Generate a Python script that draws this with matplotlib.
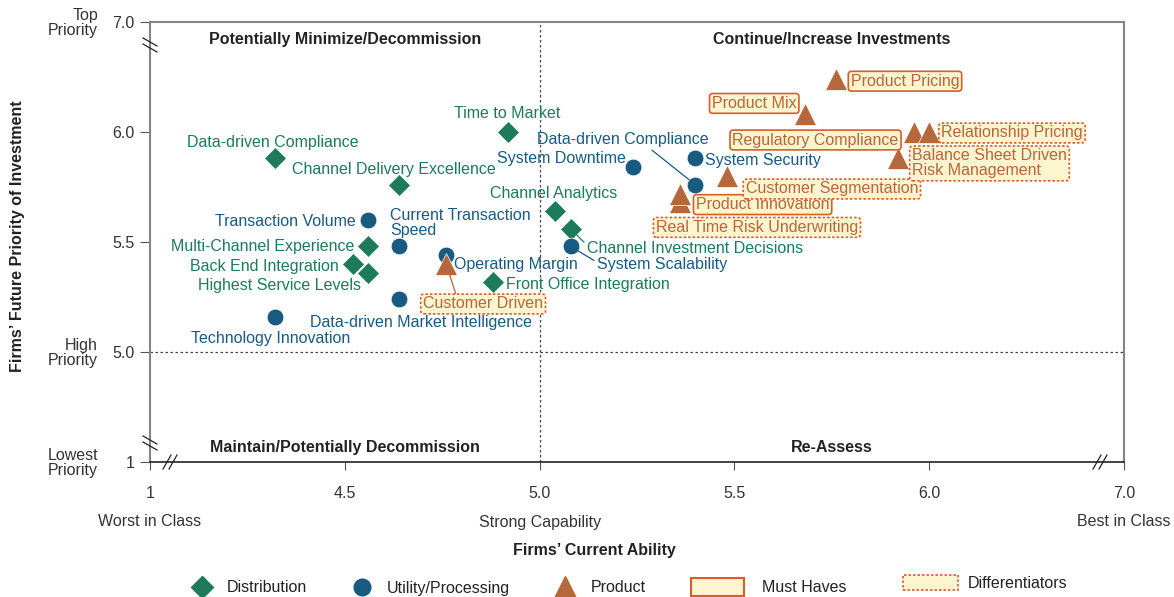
import matplotlib.pyplot as plt
from matplotlib.lines import Line2D
from matplotlib.patches import FancyBboxPatch

plt.rcParams['font.family'] = ['Liberation Sans', 'DejaVu Sans']

# ---------- Data ----------
dist_names = ['Data-driven Compliance', 'Channel Delivery Excellence', 'Time to Market',
              'Channel Analytics', 'Channel Investment Decisions', 'Multi-Channel Experience',
              'Back End Integration', 'Highest Service Levels', 'Front Office Integration']
dist_x = [4.32, 4.64, 4.92, 5.04, 5.08, 4.56, 4.52, 4.56, 4.88]
dist_y = [5.88, 5.76, 6.00, 5.64, 5.56, 5.48, 5.40, 5.36, 5.32]

util_names = ['Transaction Volume', 'Current Transaction\nSpeed', 'Operating Margin',
              'Data-driven Market Intelligence', 'Technology Innovation', 'System Downtime',
              'Data-driven Compliance', 'System Security', 'System Scalability']
util_x = [4.56, 4.64, 4.76, 4.64, 4.32, 5.24, 5.40, 5.40, 5.08]
util_y = [5.60, 5.48, 5.44, 5.24, 5.16, 5.84, 5.76, 5.88, 5.48]

prod_names = ['Customer Driven', 'Real Time Risk Underwriting', 'Product Innovation',
              'Customer Segmentation', 'Product Mix', 'Product Pricing',
              'Regulatory Compliance', 'Relationship Pricing',
              'Balance Sheet Driven\nRisk Management']
prod_x = [4.76, 5.36, 5.36, 5.48, 5.68, 5.76, 5.96, 6.00, 5.92]
prod_y = [5.40, 5.68, 5.72, 5.80, 6.08, 6.24, 6.00, 6.00, 5.88]
prod_type = ['Differentiator', 'Differentiator', 'Must Have', 'Differentiator', 'Must Have',
             'Must Have', 'Must Have', 'Differentiator', 'Differentiator']

x_ticks = [4.0, 4.5, 5.0, 5.5, 6.0, 6.5]
x_tick_labels = ['1', '4.5', '5.0', '5.5', '6.0', '7.0']
y_ticks = [4.5, 5.0, 5.5, 6.0, 6.5]
y_tick_labels = ['1', '5.0', '5.5', '6.0', '7.0']

# ---------- Styling ----------
GREEN = '#1d7a5b'
BLUE = '#195a80'
ORANGE = '#b5683c'
BOX_FILL = '#fdf4d0'
BOX_EDGE = '#d4602b'
FS = 11.5

# label placement (offset in pixels, horizontal alignment, leader line relpos)
dist_lbl = [((-2, 18), 'center', None), ((-5, 17), 'center', None), ((-1, 20), 'center', None),
            ((-2, 20), 'center', None), ((16, -18), 'left', (0, 0.75)), ((-14, 2), 'right', None),
            ((-14, 0), 'right', None), ((-7, -11), 'right', None), ((13, -1), 'left', None)]
util_lbl = [((-12, 0), 'right', None), ((-9, 25), 'left', None), ((8, -7), 'left', None),
            ((22, -21), 'center', None), ((-4, -20), 'center', None), ((-7, 11), 'right', None),
            ((-73, 47), 'center', (0.64, 0.1)), ((10, 0), 'left', None), ((26, -16), 'left', (0, 0.65))]
prod_lbl = [((37, -38), 'center', (0.28, 1)), ((-24, -23), 'left', None), ((16, -9), 'left', None),
            ((19, -11), 'left', None), ((-8, 13), 'right', None), ((15, 0), 'left', None),
            ((-15, -6), 'right', None), ((12, 1), 'left', None), ((14, -3), 'left', None)]

fig = plt.figure(figsize=(11.74, 5.97), dpi=100)
ax = fig.add_axes([150 / 1174, 1 - 462 / 597, 974 / 1174, 440 / 597])
ax.set_xlim(4.0, 6.5)
ax.set_ylim(4.5, 6.5)

# Quadrant divider lines
ax.axvline(5.0, color='#444444', lw=0.9, ls=(0, (2, 2)), zorder=1)
ax.axhline(5.0, color='#444444', lw=0.9, ls=(0, (2, 2)), zorder=1)

# Markers
ax.plot(dist_x, dist_y, ls='', marker='D', ms=11, color=GREEN, mec='white', mew=0.5, zorder=3)
ax.plot(util_x, util_y, ls='', marker='o', ms=12, color=BLUE, mec='white', mew=0.5, zorder=3)
ax.plot(prod_x, prod_y, ls='', marker='^', ms=16, color=ORANGE, mec='white', mew=0.5, zorder=3)


def add_labels(names, xs, ys, placements, color, types=None):
    for i, name in enumerate(names):
        (dx, dy), ha, relpos = placements[i]
        kw = {}
        if relpos is not None:
            kw['arrowprops'] = dict(arrowstyle='-', color=color, lw=0.9, shrinkA=0, shrinkB=6,
                                    relpos=relpos)
        if types is not None:
            ls = '-' if types[i] == 'Must Have' else (0, (1.5, 1.2))
            kw['bbox'] = dict(boxstyle='round,pad=0.15,rounding_size=0.2', fc=BOX_FILL,
                              ec=BOX_EDGE, lw=1.2, ls=ls)
        # text sits ~2px lower than its bbox centre in the reference
        ax.annotate(name, (xs[i], ys[i]), xytext=(dx, dy - 2), textcoords='offset pixels',
                    ha=ha, va='center', multialignment='left', color=color, fontsize=FS,
                    linespacing=1.0, zorder=5 if types else 4, **kw)


add_labels(dist_names, dist_x, dist_y, dist_lbl, GREEN)
add_labels(util_names, util_x, util_y, util_lbl, BLUE)
add_labels(prod_names, prod_x, prod_y, prod_lbl, ORANGE, prod_type)

# Quadrant titles
for qx, qy, txt, va in [(4.5, 6.5, 'Potentially Minimize/Decommission', 'top'),
                        (5.75, 6.5, 'Continue/Increase Investments', 'top'),
                        (4.5, 4.5, 'Maintain/Potentially Decommission', 'bottom'),
                        (5.75, 4.5, 'Re-Assess', 'bottom')]:
    off = -10 if va == 'top' else 7
    ax.annotate(txt, (qx, qy), xytext=(0, off), textcoords='offset pixels', ha='center', va=va,
                fontsize=FS, fontweight='bold', color='#222222')

# Axes appearance
for side in ['top', 'right', 'left']:
    ax.spines[side].set_color('#858585')
    ax.spines[side].set_linewidth(1.5)
ax.spines['bottom'].set_color('#222222')
ax.spines['bottom'].set_linewidth(1.2)

ax.set_xticks(x_ticks)
ax.set_xticklabels(x_tick_labels)
ax.set_yticks(y_ticks)
ax.set_yticklabels(y_tick_labels)
ax.tick_params(axis='x', length=6, width=0.8, color='#555555', pad=11, labelsize=FS,
               labelcolor='#333333')
ax.tick_params(axis='y', length=7, width=0.8, color='#555555', pad=4, labelsize=FS,
               labelcolor='#333333')

# Extra axis descriptions
for yv, txt in [(6.5, 'Top\nPriority'), (5.0, 'High\nPriority'), (4.5, 'Lowest\nPriority')]:
    ax.annotate(txt, (0, yv), xycoords=('axes fraction', 'data'), xytext=(-52, -1),
                textcoords='offset pixels', ha='right', va='center', fontsize=FS,
                linespacing=0.95, color='#333333')
for xv, txt in [(4.0, 'Worst in Class'), (5.0, 'Strong Capability'), (6.5, 'Best in Class')]:
    ax.annotate(txt, (xv, 0), xycoords=('data', 'axes fraction'), xytext=(0, -60),
                textcoords='offset pixels', ha='center', va='center', fontsize=FS,
                color='#333333')

fig.text(594 / 1174, 1 - 551 / 597, "Firms\u2019 Current Ability", ha='center', va='center',
         fontsize=FS, fontweight='bold', color='#222222')
fig.text(18 / 1174, 1 - 236 / 597, "Firms\u2019 Future Priority of Investment", ha='center',
         va='center', rotation=90, fontsize=FS, fontweight='bold', color='#222222')

# Axis break marks (pixels -> axes fraction)
W, H = 974.0, 440.0
for cx, cy, vert in [(20, 0, False), (950, 0, False), (0, 19, True), (0, 417, True)]:
    for k in (-3, 3):
        if vert:
            xs = [(cx - 7) / W, (cx + 7) / W]
            ys = [(cy + k + 4) / H, (cy + k - 4) / H]
        else:
            xs = [(cx + k - 4) / W, (cx + k + 4) / W]
            ys = [(cy - 7) / H, (cy + 7) / H]
        ax.plot(xs, ys, transform=ax.transAxes, color='#222222', lw=0.9, clip_on=False, zorder=6)

# Legend (drawn at figure level)
def fx(px):
    return px / 1174


def fy(py):
    return 1 - py / 597


for px, mk, ms, col in [(202, 'D', 11, GREEN), (362, 'o', 12, BLUE), (565, '^', 16, ORANGE)]:
    fig.add_artist(Line2D([fx(px)], [fy(587)], marker=mk, ms=ms, color=col, ls='',
                          transform=fig.transFigure))
fig.text(fx(227), fy(588), 'Distribution', va='center', fontsize=FS, color='#222222')
fig.text(fx(387), fy(588), 'Utility/Processing', va='center', fontsize=FS, color='#222222')
fig.text(fx(591), fy(588), 'Product', va='center', fontsize=FS, color='#222222')
fig.add_artist(FancyBboxPatch((fx(691), fy(596)), fx(744) - fx(691), fy(578) - fy(596),
                              boxstyle='square,pad=0', fc=BOX_FILL, ec=BOX_EDGE, lw=1.5,
                              transform=fig.transFigure))
fig.text(fx(762), fy(588), 'Must Haves', va='center', fontsize=FS, color='#222222')
fig.add_artist(FancyBboxPatch((fx(903), fy(590)), fx(958) - fx(903), fy(575) - fy(590),
                              boxstyle='square,pad=0', fc=BOX_FILL, ec=BOX_EDGE, lw=1.2,
                              ls=(0, (1.5, 1.2)), transform=fig.transFigure))
fig.text(fx(968), fy(583), 'Differentiators', va='center', fontsize=FS, color='#222222')

fig.savefig('out.png', dpi=100, facecolor='white')
